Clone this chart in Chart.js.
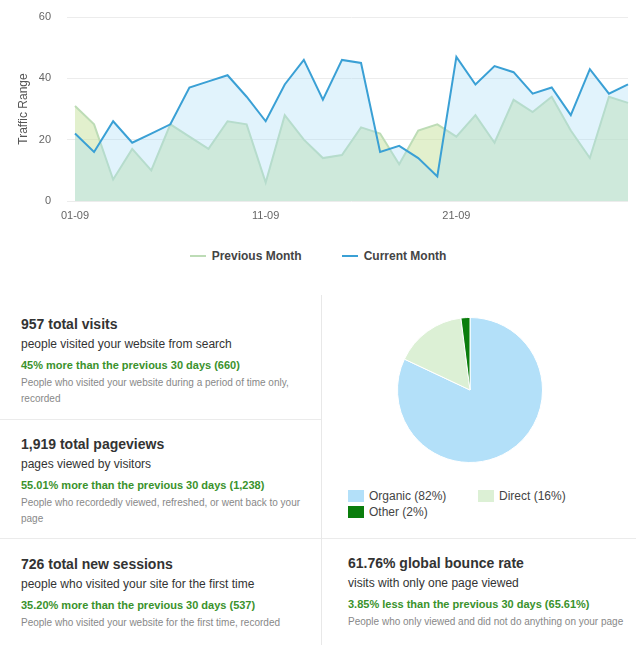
<!DOCTYPE html>
<html>
<head>
<meta charset="utf-8">
<title>Traffic overview</title>
<script src="https://cdn.jsdelivr.net/npm/chart.js@4.4.1/dist/chart.umd.min.js"></script>
<style>
  body { margin: 0; background: #fff; font-family: 'Liberation Sans', Arial, sans-serif; }
  #page { position: relative; width: 636px; height: 645px; overflow: hidden; }
  #lineWrap { position: absolute; left: 0; top: 0; width: 636px; height: 235px; }
  #lineLegend { position: absolute; left: 0; top: 248px; width: 636px; display: flex; justify-content: center; gap: 40px;
    font-weight: bold; font-size: 12px; line-height: 16px; color: #444; }
  #lineLegend .mark { display: inline-block; width: 16px; height: 2px; vertical-align: middle; margin-right: 6px; position: relative; top: -1px; }
  .panel { position: absolute; box-sizing: border-box; padding-top: 14px; padding-right: 10px; }
  .panel .t { font-weight: bold; font-size: 14px; line-height: 20px; color: #333; }
  .panel .s { font-size: 12px; line-height: 20px; color: #333; }
  .panel .g { font-weight: bold; font-size: 11px; line-height: 18px; color: #3a922c; margin-top: 2px; }
  .panel .n { font-size: 10px; line-height: 16px; color: #888; margin-top: 1px; }
  #p1 { left: 0; top: 300px; width: 321px; height: 120px; padding-left: 21px; border-bottom: 1px solid #ebebeb; }
  #p2 { left: 0; top: 420px; width: 321px; height: 119px; padding-left: 21px; border-bottom: 1px solid #ebebeb; }
  #p3 { left: 0; top: 539px; width: 321px; height: 106px; padding-left: 21px; padding-top: 15px; }
  #p4 { left: 322px; top: 538px; width: 314px; height: 107px; padding-left: 26px; border-top: 1px solid #ebebeb; }
  #vline { position: absolute; left: 321px; top: 295px; width: 1px; height: 350px; background: #e8e8e8; }
  #pieWrap { position: absolute; left: 397px; top: 317px; width: 146px; height: 146px; }
  #pieLegend { position: absolute; left: 348px; top: 488px; display: grid; grid-template-columns: 130px 130px;
    font-size: 12px; line-height: 16px; color: #444; }
  #pieLegend .box { display: inline-block; width: 16px; height: 12px; vertical-align: middle; margin-right: 5px; position: relative; top: -1px; }
</style>
</head>
<body>
<div id="page">
  <div id="lineWrap"><canvas id="traffic"></canvas></div>
  <div id="lineLegend"></div>

  <div id="vline"></div>

  <div class="panel" id="p1">
    <div class="t">957 total visits</div>
    <div class="s">people visited your website from search</div>
    <div class="g">45% more than the previous 30 days (660)</div>
    <div class="n">People who visited your website during a period of time only, recorded</div>
  </div>
  <div class="panel" id="p2">
    <div class="t">1,919 total pageviews</div>
    <div class="s">pages viewed by visitors</div>
    <div class="g">55.01% more than the previous 30 days (1,238)</div>
    <div class="n">People who recordedly viewed, refreshed, or went back to your page</div>
  </div>
  <div class="panel" id="p3">
    <div class="t">726 total new sessions</div>
    <div class="s">people who visited your site for the first time</div>
    <div class="g">35.20% more than the previous 30 days (537)</div>
    <div class="n">People who visited your website for the first time, recorded</div>
  </div>
  <div class="panel" id="p4">
    <div class="t">61.76% global bounce rate</div>
    <div class="s">visits with only one page viewed</div>
    <div class="g">3.85% less than the previous 30 days (65.61%)</div>
    <div class="n">People who only viewed and did not do anything on your page</div>
  </div>

  <div id="pieWrap"><canvas id="sources"></canvas></div>
  <div id="pieLegend"></div>
</div>

<script>
const days = ['01-09', '02-09', '03-09', '04-09', '05-09', '06-09', '07-09', '08-09', '09-09', '10-09',
              '11-09', '12-09', '13-09', '14-09', '15-09', '16-09', '17-09', '18-09', '19-09', '20-09',
              '21-09', '22-09', '23-09', '24-09', '25-09', '26-09', '27-09', '28-09', '29-09', '30-09'];

const previousMonth = [31, 25, 7, 17, 10, 25, 21, 17, 26, 25, 6, 28, 20, 14, 15,
                       24, 22, 12, 23, 25, 21, 28, 19, 33, 29, 34, 23, 14, 34, 32];

const currentMonth = [22, 16, 26, 19, 22, 25, 37, 39, 41, 34, 26, 38, 46, 33, 46,
                      45, 16, 18, 14, 8, 47, 38, 44, 42, 35, 37, 28, 43, 35, 38];

const seriesNames = ['Previous Month', 'Current Month'];

const yMax = 60;
const yStep = 20;

const sourceNames = ['Organic', 'Direct', 'Other'];
const sourceValues = [82, 16, 2];

// colours
const prevLine = '#bddcb6';
const prevFill = 'rgba(197, 225, 155, 0.5)';
const curLine = '#3aa0d5';
const curFill = 'rgba(169, 221, 246, 0.35)';
const sourceColors = ['#b3e0f9', '#dcf0d5', '#0a7d0c'];

Chart.defaults.font.family = "'Liberation Sans', Arial, sans-serif";

new Chart(document.getElementById('traffic'), {
    type: 'line',
    data: {
        labels: days,
        datasets: [{
            label: seriesNames[0],
            data: previousMonth,
            borderColor: prevLine,
            backgroundColor: prevFill,
            borderWidth: 2,
            pointRadius: 0,
            tension: 0,
            fill: 'origin',
            order: 1
        }, {
            label: seriesNames[1],
            data: currentMonth,
            borderColor: curLine,
            backgroundColor: curFill,
            borderWidth: 2,
            pointRadius: 0,
            tension: 0,
            fill: 'origin',
            order: 0
        }]
    },
    options: {
        responsive: true,
        maintainAspectRatio: false,
        animation: false,
        layout: { padding: { left: 12, top: 17, right: 4, bottom: 0 } },
        plugins: {
            legend: { display: false },
            tooltip: { enabled: false }
        },
        scales: {
            x: {
                grid: { display: false, drawTicks: false },
                border: { display: false },
                ticks: {
                    autoSkip: false,
                    maxRotation: 0,
                    padding: 8,
                    color: '#666',
                    font: { size: 11 },
                    callback: function (value, index) {
                        return index % 10 === 0 ? this.getLabelForValue(value) : '';
                    }
                },
                afterFit: scale => { scale.height = 34; }
            },
            y: {
                min: 0,
                max: yMax,
                ticks: { stepSize: yStep, padding: 16, color: '#666', font: { size: 11 } },
                grid: { color: '#ececec', tickLength: 8 },
                border: { display: false },
                title: { display: true, text: 'Traffic Range', color: '#555', font: { size: 12 }, padding: 4 },
                afterFit: scale => {
                    scale.width = 63;
                    // the label padding should not push the plot down
                    scale.paddingTop = 0;
                    scale.paddingBottom = 0;
                }
            }
        }
    }
});

// legend for the line chart
const lineLegend = document.getElementById('lineLegend');
[prevLine, curLine].forEach((c, i) => {
    const item = document.createElement('span');
    item.innerHTML = '<span class="mark" style="background:' + c + '"></span>' + seriesNames[i];
    lineLegend.appendChild(item);
});

new Chart(document.getElementById('sources'), {
    type: 'pie',
    data: {
        labels: sourceNames,
        datasets: [{
            data: sourceValues,
            backgroundColor: sourceColors,
            borderColor: '#fff',
            borderWidth: 1
        }]
    },
    options: {
        responsive: true,
        maintainAspectRatio: false,
        animation: false,
        plugins: {
            legend: { display: false },
            tooltip: { enabled: false }
        }
    }
});

const pieLegend = document.getElementById('pieLegend');
sourceNames.forEach((name, i) => {
    const item = document.createElement('div');
    item.innerHTML = '<span class="box" style="background:' + sourceColors[i] + '"></span>' +
        name + ' (' + sourceValues[i] + '%)';
    pieLegend.appendChild(item);
});
</script>
</body>
</html>
